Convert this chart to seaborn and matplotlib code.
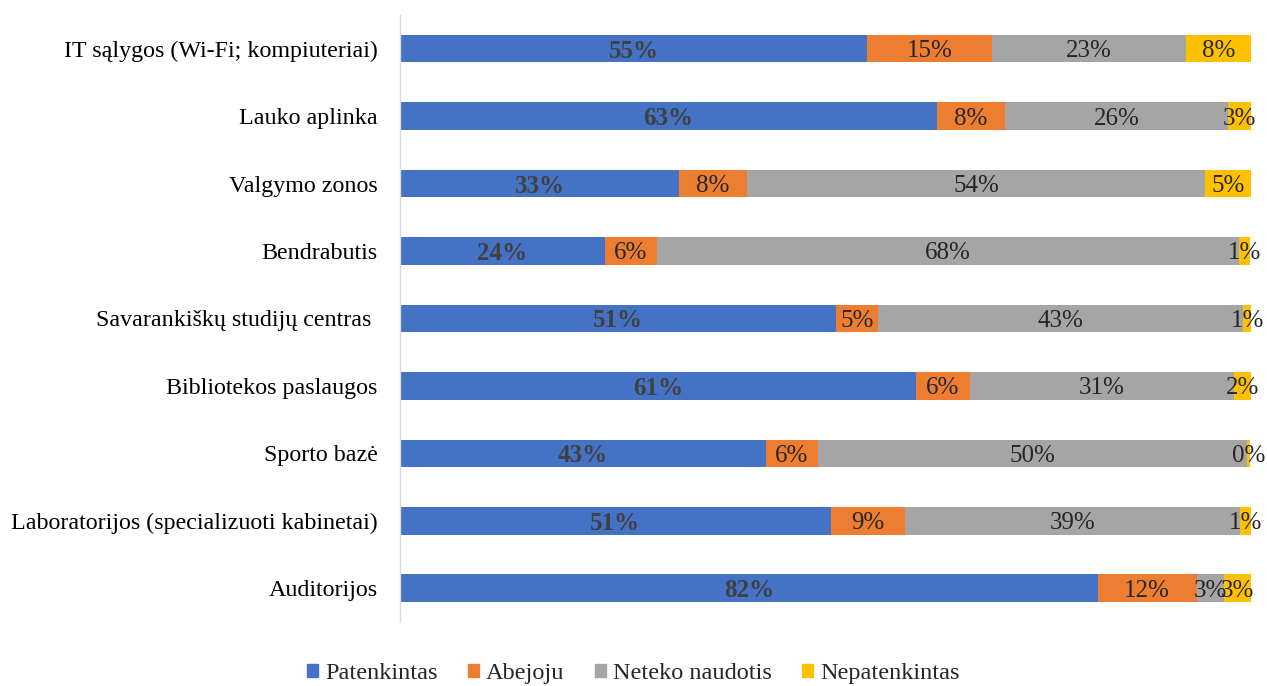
import pandas as pd
import matplotlib.pyplot as plt
import seaborn as sns
from matplotlib.patches import Patch

# data (percent of respondents)
categories = ['IT sąlygos (Wi-Fi; kompiuteriai)', 'Lauko aplinka', 'Valgymo zonos',
              'Bendrabutis', 'Savarankiškų studijų centras ', 'Bibliotekos paslaugos',
              'Sporto bazė', 'Laboratorijos (specializuoti kabinetai)', 'Auditorijos']
patenkintas = [54.9, 63.1, 32.8, 24.1, 51.2, 60.6, 43.0, 50.6, 82.0]
abejoju = [14.7, 8.0, 8.0, 6.1, 5.0, 6.4, 6.1, 8.7, 11.6]
neteko = [22.7, 26.2, 53.8, 68.4, 42.8, 31.0, 50.4, 39.4, 3.2]
nepatenkintas = [7.8, 2.7, 5.4, 1.3, 1.1, 2.0, 0.4, 1.3, 3.2]

series = ['Patenkintas', 'Abejoju', 'Neteko naudotis', 'Nepatenkintas']
colors = ['#4472C4', '#ED7D31', '#A5A5A5', '#FFC000']

df = pd.DataFrame({'cat': categories, 'Patenkintas': patenkintas, 'Abejoju': abejoju,
                   'Neteko naudotis': neteko, 'Nepatenkintas': nepatenkintas})
cum = df[series].cumsum(axis=1)
cum['cat'] = df['cat']

sns.set_style('white')
plt.rcParams['font.family'] = ['Liberation Serif', 'DejaVu Serif']

fig = plt.figure(figsize=(12.67, 6.86), dpi=100)
ax = fig.add_axes([0.3157, 0.0933, 0.6717, 0.885])

# stacked bars: draw the cumulative totals from longest to shortest
for s, c in zip(series[::-1], colors[::-1]):
    sns.barplot(data=cum, x=s, y='cat', order=categories, color=c, width=0.41,
                orient='h', ax=ax, saturation=1, linewidth=0)

# segment labels
for i, cat in enumerate(categories):
    left = 0
    for j, s in enumerate(series):
        v = df.loc[i, s]
        if j == 0:
            ax.text(left + v / 2, i, f'{v:.0f}%', ha='center', va='center_baseline',
                    fontsize=18, fontweight='bold', color='#404040')
        else:
            ax.text(left + v / 2, i, f'{v:.0f}%', ha='center', va='center_baseline',
                    fontsize=18, color='#262626')
        left += v

ax.set_xlim(0, 100)
ax.set_ylim(8.5, -0.5)
ax.set_xlabel('')
ax.set_ylabel('')
ax.set_xticks([])
ax.tick_params(axis='y', length=0, labelsize=17.3, pad=16, labelcolor='#000000')
for sp in ['top', 'right', 'bottom']:
    ax.spines[sp].set_visible(False)
ax.spines['left'].set_color('#D9D9D9')
ax.spines['left'].set_linewidth(1)

handles = [Patch(color=c, label=s) for s, c in zip(series, colors)]
fig.legend(handles=handles, loc='center', bbox_to_anchor=(0.5, 0.018), ncol=4,
           frameon=False, fontsize=17.5, handlelength=0.45, handleheight=0.45,
           handletextpad=0.3, columnspacing=1.25)

plt.savefig('out.png', dpi=100)
